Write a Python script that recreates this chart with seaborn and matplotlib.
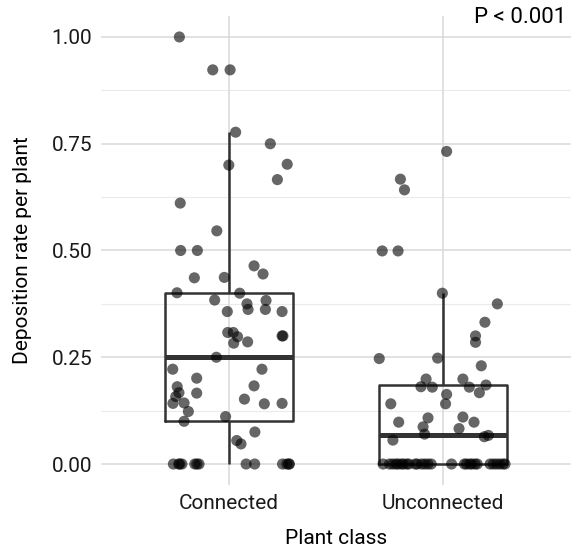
import matplotlib
matplotlib.use("Agg")
import matplotlib.pyplot as plt
import seaborn as sns
import pandas as pd
import numpy as np

classes = ["Connected", "Unconnected"]

# Connected plants: rates and horizontal jitter
connected_rate = [1.000, 0.923, 0.923, 0.777, 0.750, 0.702, 0.700, 0.666, 0.611, 0.546,
                  0.500, 0.500, 0.464, 0.445, 0.436, 0.437, 0.401, 0.400, 0.384, 0.375,
                  0.383, 0.362, 0.357, 0.362, 0.357, 0.308, 0.308, 0.298, 0.283, 0.286,
                  0.300, 0.300, 0.250, 0.222, 0.222, 0.201, 0.181, 0.167, 0.158, 0.166,
                  0.183, 0.142, 0.143, 0.152, 0.123, 0.141, 0.142, 0.111, 0.100, 0.075,
                  0.055, 0.047,
                  0, 0, 0, 0, 0, 0, 0, 0, 0, 0, 0, 0, 0]
connected_jit = [-0.232, -0.076, 0.005, 0.031, 0.193, 0.272, -0.001, 0.226, -0.228, -0.057,
                 -0.226, -0.148, 0.117, 0.159, -0.162, -0.022, -0.243, 0.050, -0.067, 0.084,
                 0.173, 0.089, -0.008, 0.170, 0.248, -0.006, 0.020, 0.040, 0.022, 0.087,
                 0.248, 0.252, -0.059, -0.263, 0.154, -0.151, -0.242, -0.234, -0.249, -0.151,
                 0.117, -0.262, -0.210, 0.072, -0.190, 0.165, 0.248, -0.016, -0.210, 0.121,
                 0.036, 0.056,
                 -0.26, -0.235, -0.23, -0.22, -0.16, -0.15, -0.14, 0.08, 0.12, 0.25,
                 0.27, 0.28, 0.282]

# Unconnected plants
unconnected_rate = [0.732, 0.667, 0.642, 0.499, 0.499, 0.400, 0.375, 0.332, 0.300, 0.285,
                    0.247, 0.248, 0.230, 0.199, 0.199, 0.181, 0.180, 0.180, 0.185, 0.163,
                    0.167, 0.141, 0.141, 0.098, 0.108, 0.110, 0.087, 0.083, 0.098, 0.070,
                    0.056, 0.064, 0.067,
                    0, 0, 0, 0, 0, 0, 0, 0, 0, 0, 0, 0, 0, 0,
                    0, 0, 0, 0, 0, 0, 0, 0, 0, 0, 0, 0, 0, 0]
unconnected_jit = [0.017, -0.199, -0.180, -0.284, -0.210, -0.003, 0.254, 0.196, 0.152, 0.152,
                   -0.298, -0.025, 0.179, -0.079, 0.093, -0.103, -0.050, 0.123, 0.201, 0.017,
                   0.170, -0.244, 0.012, -0.207, -0.070, 0.093, -0.093, 0.075, 0.145, -0.086,
                   -0.234, 0.193, 0.212,
                   -0.28, -0.25, -0.235, -0.22, -0.21, -0.195, -0.185, -0.17, -0.16, -0.13,
                   -0.12, -0.10, -0.085, -0.07, -0.055, 0.04, 0.10, 0.11, 0.125, 0.135,
                   0.15, 0.16, 0.22, 0.235, 0.25, 0.265, 0.28, 0.29]

df = pd.DataFrame({
    "cls": [classes[0]] * len(connected_rate) + [classes[1]] * len(unconnected_rate),
    "rate": connected_rate + unconnected_rate,
    "jit": connected_jit + unconnected_jit,
})
df["xpos"] = df["cls"].map({c: i for i, c in enumerate(classes)}) + df["jit"]

sns.set_style("white")
plt.rcParams["font.family"] = ["Roboto", "DejaVu Sans"]

fig = plt.figure(figsize=(5.75, 5.52), dpi=100)
ax = fig.add_axes([0.175, 0.1207, 0.8187, 0.851])

# grid like theme_minimal
for v in [0.125, 0.375, 0.625, 0.875]:
    ax.axhline(v, color="#ebebeb", lw=0.8, zorder=0)
for v in [0, 0.25, 0.5, 0.75, 1.0]:
    ax.axhline(v, color="#d9d9d9", lw=1.1, zorder=0)
for v in [0, 1]:
    ax.axvline(v, color="#d9d9d9", lw=1.1, zorder=0)

sns.boxplot(data=df, x="cls", y="rate", order=classes, width=0.6, fill=False,
            color="#333333", linewidth=1.8, showfliers=False, showcaps=False,
            medianprops={"linewidth": 3.6, "color": "#333333"}, ax=ax)

sns.scatterplot(data=df, x="xpos", y="rate", color="black", alpha=0.6, s=64,
                edgecolor="none", ax=ax, zorder=5)

ax.set_xlim(-0.6, 1.6)
ax.set_ylim(-0.05, 1.05)
ax.set_yticks([0, 0.25, 0.5, 0.75, 1.0])
ax.set_yticklabels(["0.00", "0.25", "0.50", "0.75", "1.00"])
ax.set_xticks([0, 1])
ax.set_xticklabels(classes)
ax.tick_params(axis="both", length=0, labelsize=15, labelcolor="#1a1a1a", pad=6)
ax.set_xlabel("Plant class", fontsize=15, color="black", labelpad=12)
ax.set_ylabel("Deposition rate per plant", fontsize=15, color="black", labelpad=14)
for s in ax.spines.values():
    s.set_visible(False)

ax.text(1.575, 1.045, "P < 0.001", ha="right", va="center", fontsize=16, color="black")

fig.savefig("out.png", dpi=100)
